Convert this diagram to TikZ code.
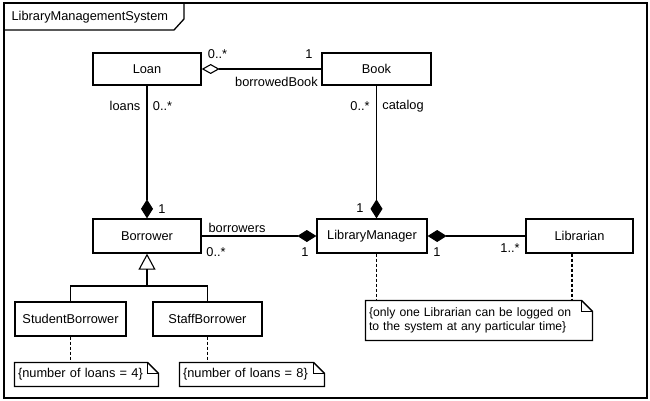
\documentclass[tikz,border=0pt]{standalone}
\usepackage{fontspec}
\setmainfont{Liberation Sans}
\usetikzlibrary{arrows.meta}
\begin{document}
\begin{tikzpicture}[x=1pt,y=-1pt,
  font=\fontsize{12.8}{14.5}\selectfont,
  line width=1.1pt,
  cls/.style={draw, line width=1.3pt, minimum height=33pt, inner sep=0pt},
  notebox/.style={inner xsep=3pt, inner ysep=0pt, align=left},
  lbl/.style={inner sep=0pt},
  dots/.style={dash pattern=on 3pt off 2pt},
  comp/.style={{Diamond[length=19pt,width=12pt]}-},
  agg/.style={{Diamond[open,length=18pt,width=10pt]}-},
  gen/.style={-{Triangle[open,length=16pt,width=17pt]}}
]
\useasboundingbox (0,0) rectangle (650,401);
% frame
\draw[line width=1.3pt] (4,3) rectangle (647,398);
\draw[line width=1.3pt] (4,30) -- (174,30) -- (184,19) -- (184,3);
\node[lbl, anchor=west] (title) at (11,17) {LibraryManagementSystem};

% classes
\node[cls, minimum width=108pt, minimum height=32pt] (loan) at (147,69) {Loan};
\node[cls, minimum width=109pt, minimum height=32pt] (book) at (376.5,69) {Book};
\node[cls, minimum width=108pt, minimum height=34pt] (borrower) at (147,236) {Borrower};
\node[cls, minimum width=110pt, minimum height=34pt] (lm) at (372,236) {LibraryManager};
\node[cls, minimum width=107pt, minimum height=34pt] (librarian) at (579.5,236) {Librarian};
\node[cls, minimum width=111pt, minimum height=34pt] (student) at (70.5,319) {StudentBorrower};
\node[cls, minimum width=109pt, minimum height=34pt] (staff) at (207.5,319) {StaffBorrower};

% notes
\node[notebox, text width=137pt, minimum height=23pt] (n1) at (86.5,374.5) {\{number of loans = 4\}};
\node[notebox, text width=138pt, minimum height=23pt] (n2) at (252,374.5) {\{number of loans = 8\}};
\node[notebox, text width=220pt, minimum height=39pt, font=\fontsize{12.2}{14}\selectfont] (n3) at (479,320.5) {\{only one Librarian can be logged on\\to the system at any particular time\}};
\foreach \n in {n1,n2,n3}{
  \draw[line width=1.3pt] (\n.north west) -- ([xshift=-11pt]\n.north east) -- ([yshift=-11pt]\n.north east) -- (\n.south east) -- (\n.south west) -- cycle;
  \draw[line width=0.9pt] ([xshift=-11pt]\n.north east) -- ([xshift=-11pt,yshift=-11pt]\n.north east) -- ([yshift=-11pt]\n.north east);
}

% associations
\draw[agg] (loan.east) -- (book.west);
\draw[comp] (borrower.north) -- (loan.south);
\draw[comp] (book.south |- lm.north) -- (book.south);
\draw[comp] (lm.west) -- (borrower.east);
\draw[comp] (lm.east) -- (librarian.west);

% generalization
\coordinate (g) at (147,286);
\draw (student.north) |- (g) -| (staff.north);
\draw[gen] (g) -- (borrower.south);

% note links
\draw[dots] (student.south) -- (student.south |- n1.north);
\draw[dots] (staff.south) -- (staff.south |- n2.north);
\draw[dots] (lm.south -| book.south) -- (book.south |- n3.north);
\coordinate (lc) at (572,0);
\draw[dots] (lc |- librarian.south) -- (lc |- n3.north);

% labels
\node[lbl] (m1) at (217.5,54) {0..*};
\node[lbl] (m2) at (309,54) {1};
\node[lbl] (r1) at (276.5,82) {borrowedBook};
\node[lbl] (r2) at (125,106) {loans};
\node[lbl] (m3) at (162.5,106) {0..*};
\node[lbl] (m4) at (360,106) {0..*};
\node[lbl] (r3) at (403,106) {catalog};
\node[lbl] (m5) at (162,209) {1};
\node[lbl] (m6) at (360,208) {1};
\node[lbl] (r4) at (237,228) {borrowers};
\node[lbl] (m7) at (216,252) {0..*};
\node[lbl] (m8) at (305,252) {1};
\node[lbl] (m9) at (437,252) {1};
\node[lbl] (m10) at (510,248) {1..*};
\end{tikzpicture}
\end{document}
